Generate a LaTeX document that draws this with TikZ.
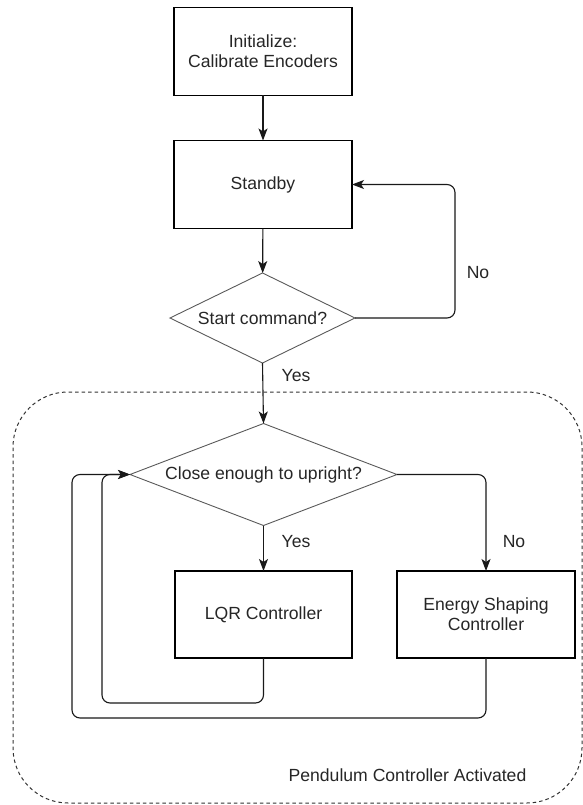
\documentclass[tikz,border=0pt]{standalone}
\usepackage{fontspec}
\setmainfont{Liberation Sans}
\usetikzlibrary{shapes.geometric,arrows.meta,calc}

\begin{document}
\begin{tikzpicture}[
  x=1pt, y=-1pt,
  every node/.style={font=\fontsize{17.6}{20}\selectfont, text=black!85},
  procbox/.style={draw=black, line width=1.1pt, rectangle, inner sep=0pt, outer sep=0pt,
                  align=center, minimum width=178pt, minimum height=88pt},
  decision/.style={draw=black!65, line width=0.9pt, diamond, aspect=2.6, inner sep=0pt,
                   outer sep=0pt, align=center},
  flow/.style={draw=black!90, line width=1.1pt, rounded corners=8pt,
               -{Stealth[length=12pt, width=9pt, inset=3pt]}},
  edgelabel/.style={inner sep=0pt},
  groupbox/.style={draw=black!80, line width=1pt, dash pattern=on 3.5pt off 3pt,
                   rounded corners=55pt, inner sep=0pt, minimum width=569pt, minimum height=411pt}
]
\useasboundingbox (0,0) rectangle (583,805);

% dashed frame around the pendulum control loop
\node[groupbox] (group) at (297.5,597.5) {};
\node[edgelabel] (grouplabel) at (407.5,775) {Pendulum Controller Activated};

% states and decisions
\node[procbox] (init) at (263,51.5) {Initialize:\\Calibrate Encoders};
\node[procbox] (standby) at (263,184.5) {Standby};
\node[decision, minimum width=185pt, minimum height=90pt] (start) at (262.5,318) {Start command?};
\node[decision, minimum width=267pt, minimum height=102pt] (close) at (263.5,474.5) {Close enough to upright?};
\node[procbox, minimum width=177pt, minimum height=87pt] (lqr) at (263.5,614.5) {LQR Controller};
\node[procbox, minimum width=178pt, minimum height=87pt] (energy) at (486,614.5) {Energy Shaping\\Controller};

% connectors
\draw[flow] (init) -- (standby);
\draw[flow] (standby) -- (start);
\draw[flow] (start.south) -- (close.north);
\draw[flow] (start.east) -- ++(100,0) |- (standby.east);
\draw[flow] (close.south) -- (lqr.north);
\draw[flow] (close.east) -| (energy.north);
\draw[flow] (lqr.south) -- ++(0,45) -| ([xshift=-28pt]close.west) -- (close.west);
\draw[flow] (energy.south) -- ++(0,60) -| ([xshift=-58pt]close.west) -- (close.west);

% branch labels
\node[edgelabel] (noA) at (478,273) {No};
\node[edgelabel] (yesA) at (296,376) {Yes};
\node[edgelabel] (yesB) at (296,542) {Yes};
\node[edgelabel] (noB) at (514,542) {No};
\end{tikzpicture}
\end{document}
